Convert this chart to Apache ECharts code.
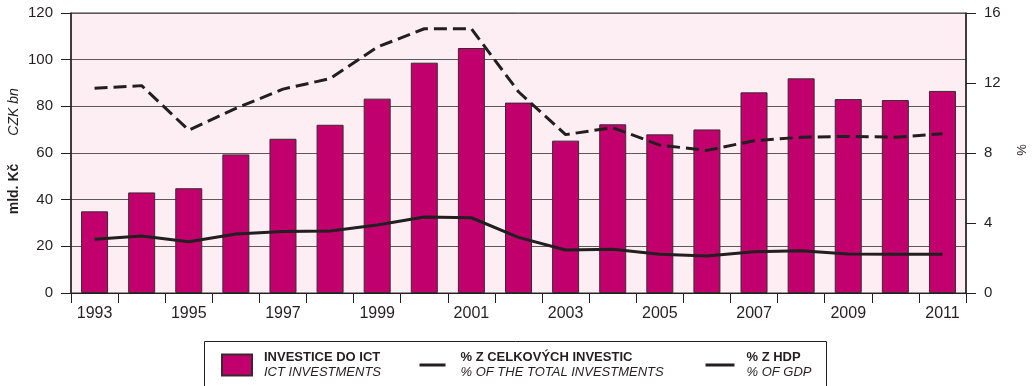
<!DOCTYPE html>
<html>
<head>
<meta charset="utf-8">
<script src="https://cdn.jsdelivr.net/npm/echarts@6/dist/echarts.min.js"></script>
<style>
  html, body { margin: 0; padding: 0; background: #ffffff; }
  #chart { width: 1033px; height: 386px; }
</style>
</head>
<body>
<div id="chart"></div>
<script>
// Years on the category axis
const years = ['1993','1994','1995','1996','1997','1998','1999','2000','2001','2002',
               '2003','2004','2005','2006','2007','2008','2009','2010','2011'];

// ICT investments, CZK bn (left axis)
const ictInvestments = [35.0, 43.1, 44.9, 59.4, 66.1, 72.1, 83.3, 98.7, 105.0, 81.6,
                        65.3, 72.3, 68.0, 70.1, 86.0, 92.0, 83.1, 82.7, 86.6];

// Share of total investments, % (right axis)
const shareOfTotal = [11.7, 11.85, 9.3, 10.55, 11.65, 12.25, 14.05, 15.1, 15.1, 11.5,
                      9.05, 9.45, 8.45, 8.15, 8.7, 8.9, 8.95, 8.9, 9.1];

// Share of GDP, % (right axis)
const shareOfGdp = [3.07, 3.26, 2.93, 3.37, 3.52, 3.54, 3.89, 4.34, 4.3, 3.18,
                    2.46, 2.5, 2.21, 2.11, 2.36, 2.42, 2.23, 2.21, 2.21];

// Legend captions: Czech name (series name) and English subtitle
const seriesNames = ['INVESTICE DO ICT', '% Z CELKOVÝCH INVESTIC', '% Z HDP'];
const seriesSubtitles = ['ICT INVESTMENTS', '% OF THE TOTAL INVESTMENTS', '% OF GDP'];

const FONT = '"Liberation Sans", Arial, Helvetica, sans-serif';
const BAR_COLOR = '#c2006d';
const LINE_COLOR = '#231f20';
const DASH = [13, 6];

const chart = echarts.init(document.getElementById('chart'), null, { renderer: 'canvas' });

function legendFor(index, left, extra) {
  return Object.assign({
    data: [seriesNames[index]],
    left: left,
    top: 351,
    orient: 'horizontal',
    padding: 0,
    itemGap: 0,
    itemWidth: 30,
    itemHeight: 21,
    selectedMode: false,
    formatter: function (name) {
      return '{b|' + name + '}\n{i|' + seriesSubtitles[seriesNames.indexOf(name)] + '}';
    },
    textStyle: {
      fontFamily: FONT,
      padding: [0, 0, 0, 7],
      rich: {
        b: { fontFamily: FONT, fontSize: 13, fontWeight: 'bold', color: '#231f20', lineHeight: 15 },
        i: { fontFamily: FONT, fontSize: 13, fontStyle: 'italic', color: '#231f20', lineHeight: 15 }
      }
    }
  }, extra || {});
}

// line legends: plain stroke only, no marker in the middle
const noMarker = { color: 'rgba(0,0,0,0)', borderWidth: 0, opacity: 0 };

const option = {
  backgroundColor: '#ffffff',
  animation: false,
  textStyle: { fontFamily: FONT },
  grid: {
    left: 71, right: 67, top: 13, bottom: 93,
    show: true,
    backgroundColor: '#fdeef4',
    borderColor: '#333333',
    borderWidth: 1
  },
  legend: [
    legendFor(0, 221, { icon: 'rect' }),
    legendFor(1, 418, { itemWidth: 29, itemStyle: noMarker, lineStyle: { type: [26, 10], width: 3 } }),
    legendFor(2, 704, { itemWidth: 29, itemStyle: noMarker, lineStyle: { width: 3 } })
  ],
  xAxis: {
    type: 'category',
    data: years,
    boundaryGap: true,
    axisLine: { lineStyle: { color: '#231f20', width: 1 } },
    axisTick: { show: true, interval: 0, length: 10, lineStyle: { color: '#231f20' } },
    axisLabel: {
      interval: 1,
      margin: 13,
      fontSize: 16,
      color: '#231f20',
      fontFamily: FONT
    },
    splitLine: { show: false }
  },
  yAxis: [
    {
      type: 'value',
      min: 0, max: 120, interval: 20,
      position: 'left',
      axisLine: { show: true, lineStyle: { color: '#231f20', width: 1.5 } },
      axisTick: { show: true, length: 10, lineStyle: { color: '#231f20' } },
      axisLabel: { margin: 18, fontSize: 15, color: '#231f20', fontFamily: FONT },
      splitLine: { show: true, lineStyle: { color: '#5a5a5a', width: 1 } }
    },
    {
      type: 'value',
      min: 0, max: 16, interval: 4,
      position: 'right',
      axisLine: { show: true, lineStyle: { color: '#231f20', width: 1.5 } },
      axisTick: { show: true, length: 10, lineStyle: { color: '#231f20' } },
      axisLabel: { margin: 18, fontSize: 15, color: '#231f20', fontFamily: FONT },
      splitLine: { show: false }
    }
  ],
  series: [
    {
      name: seriesNames[0],
      type: 'bar',
      yAxisIndex: 0,
      data: ictInvestments,
      barWidth: 27,
      itemStyle: { color: BAR_COLOR, borderColor: '#3a2a30', borderWidth: 1 },
      z: 2
    },
    {
      name: seriesNames[1],
      type: 'line',
      yAxisIndex: 1,
      data: shareOfTotal,
      symbol: 'none',
      color: LINE_COLOR,
      lineStyle: { color: LINE_COLOR, width: 3, type: DASH },
      z: 3
    },
    {
      name: seriesNames[2],
      type: 'line',
      yAxisIndex: 1,
      data: shareOfGdp,
      symbol: 'none',
      color: LINE_COLOR,
      lineStyle: { color: LINE_COLOR, width: 3 },
      z: 3
    }
  ],
  graphic: [
    {
      type: 'rect',
      shape: { x: 204.5, y: 341.5, width: 622, height: 80 },
      style: { fill: 'none', stroke: '#231f20', lineWidth: 1 },
      silent: true, z: -1
    },
    {
      type: 'text',
      x: 14, y: 189, rotation: Math.PI / 2,
      style: {
        text: 'mld. Kč', fontFamily: FONT, fontSize: 14, fontWeight: 'bold',
        fill: '#231f20', align: 'center', verticalAlign: 'middle'
      }
    },
    {
      type: 'text',
      x: 14, y: 112, rotation: Math.PI / 2,
      style: {
        text: 'CZK bn', fontFamily: FONT, fontSize: 14, fontStyle: 'italic',
        fill: '#231f20', align: 'center', verticalAlign: 'middle'
      }
    },
    {
      type: 'text',
      x: 1022, y: 150, rotation: Math.PI / 2,
      style: {
        text: '%', fontFamily: FONT, fontSize: 13,
        fill: '#231f20', align: 'center', verticalAlign: 'middle'
      }
    }
  ]
};

chart.setOption(option);
</script>
</body>
</html>
